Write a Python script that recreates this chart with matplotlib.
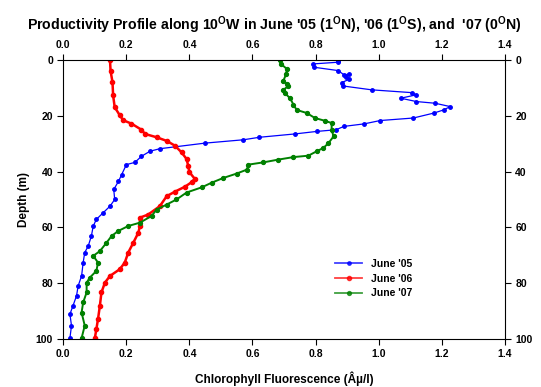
import matplotlib
matplotlib.use("Agg")
import matplotlib.pyplot as plt

plt.rcParams['font.family'] = ['Liberation Sans', 'DejaVu Sans']
plt.rcParams['font.weight'] = 'bold'
plt.rcParams['mathtext.fontset'] = 'custom'
plt.rcParams['mathtext.bf'] = 'Liberation Sans:bold'
plt.rcParams['mathtext.rm'] = 'Liberation Sans:bold'

# June '05 (blue)
chl05 = [0.872, 0.872, 0.793, 0.795, 0.872, 0.891, 0.907, 0.895, 0.907, 0.883, 0.886, 0.978,
         1.105, 1.119, 1.070, 1.120, 1.179, 1.227, 1.206, 1.176, 1.110, 1.005, 0.954, 0.890,
         0.865, 0.804, 0.735, 0.622, 0.571, 0.449, 0.306, 0.275, 0.248, 0.227, 0.200, 0.185,
         0.175, 0.160, 0.163, 0.148, 0.126, 0.105, 0.095, 0.089, 0.079, 0.068, 0.063, 0.058,
         0.047, 0.042, 0.031, 0.021, 0.026, 0.021]
dep05 = [0.3, 0.8, 1.4, 2.6, 3.8, 5.4, 5.0, 6.0, 6.9, 8.1, 9.3, 10.7,
         11.7, 12.5, 13.7, 14.9, 15.5, 16.7, 17.9, 19.0, 20.8, 21.7, 22.9, 23.8,
         25.0, 25.6, 26.5, 27.7, 28.6, 29.8, 31.8, 32.7, 34.5, 36.7, 37.5, 41.1,
         43.5, 46.4, 50.0, 52.4, 54.8, 57.1, 59.5, 63.1, 66.7, 69.0, 72.6, 77.4,
         81.0, 84.5, 88.0, 91.1, 95.2, 99.7]

# June '06 (red)
chl06 = [0.148, 0.150, 0.156, 0.158, 0.163, 0.179, 0.190, 0.216, 0.248, 0.259, 0.296, 0.328,
         0.354, 0.375, 0.391, 0.396, 0.400, 0.417, 0.407, 0.386, 0.354, 0.328, 0.306, 0.269,
         0.243, 0.243, 0.238, 0.222, 0.206, 0.195, 0.179, 0.148, 0.132, 0.121, 0.116, 0.110,
         0.105, 0.100]
dep06 = [0.0, 4.0, 7.9, 12.7, 16.9, 19.8, 21.6, 22.8, 25.0, 26.5, 27.7, 29.0,
         30.7, 33.1, 35.5, 37.9, 40.2, 42.6, 43.8, 45.4, 47.2, 48.8, 52.4, 55.4,
         56.5, 59.5, 61.9, 65.5, 69.0, 72.6, 75.0, 77.4, 79.8, 83.3, 88.1, 92.9,
         96.4, 99.7]

# June '07 (green)
chl07 = [0.687, 0.690, 0.709, 0.707, 0.698, 0.709, 0.714, 0.698, 0.703, 0.719, 0.730, 0.740,
         0.772, 0.798, 0.830, 0.851, 0.851, 0.857, 0.841, 0.825, 0.804, 0.777, 0.730, 0.682,
         0.634, 0.587, 0.582, 0.550, 0.507, 0.470, 0.440, 0.391, 0.359, 0.328, 0.296, 0.280,
         0.243, 0.206, 0.174, 0.153, 0.137, 0.116, 0.095, 0.110, 0.105, 0.084, 0.074, 0.074,
         0.063, 0.058, 0.068, 0.058]
dep07 = [0.0, 1.4, 3.2, 5.0, 7.4, 8.6, 9.3, 10.7, 11.9, 13.7, 16.0, 17.9,
         19.0, 20.8, 21.8, 22.6, 25.0, 27.4, 29.8, 31.5, 32.7, 34.3, 34.8, 35.7,
         36.7, 37.5, 39.3, 40.7, 42.3, 44.0, 45.6, 47.5, 50.0, 51.8, 53.6, 55.9,
         58.3, 59.5, 61.3, 63.1, 65.5, 68.5, 70.2, 72.6, 75.6, 78.0, 79.8, 83.3,
         86.9, 90.5, 95.2, 99.7]

fig = plt.figure(figsize=(5.41, 3.87), dpi=100)
ax = fig.add_axes([0.117, 0.124, 0.816, 0.721])

ax.plot(chl05, dep05, color='blue', lw=0.9, marker='o', ms=2.5, label="June '05")
ax.plot(chl06, dep06, color='red', lw=1.8, marker='o', ms=3, label="June '06")
ax.plot(chl07, dep07, color='green', lw=1.4, marker='o', ms=2.8, label="June '07")

ax.set_xlim(0, 1.4)
ax.set_ylim(100, 0)
xt = [0.0, 0.2, 0.4, 0.6, 0.8, 1.0, 1.2, 1.4]
yt = [0, 20, 40, 60, 80, 100]
ax.set_xticks(xt)
ax.set_yticks(yt)
ax.set_xticklabels(['%.1f' % v for v in xt])
ax.tick_params(direction='out', length=4, labelsize=7.5, top=True, right=True,
               labeltop=True, labelright=True, width=0.8)
for s in ax.spines.values():
    s.set_linewidth(0.8)

ax.set_xlabel('Chlorophyll Fluorescence (Âµ/l)', fontsize=8.5, fontweight='bold', labelpad=9)
ax.set_ylabel('Depth (m)', fontsize=8.5, fontweight='bold')
fig.text(0.507, 0.935,
         r"Productivity Profile along 10$^{\mathbf{O}}$W in June '05 (1$^{\mathbf{O}}$N), "
         r"'06 (1$^{\mathbf{O}}$S), and  '07 (0$^{\mathbf{O}}$N)",
         ha='center', va='center', fontsize=10.2, fontweight='bold')

leg = ax.legend(loc='upper left', bbox_to_anchor=(0.595, 0.32), frameon=False, fontsize=7.5,
                handlelength=2.6, labelspacing=0.45)
for h in leg.get_lines():
    h.set_linewidth(1.3)
    h.set_alpha(0.75)

fig.savefig('out.png', dpi=100)
